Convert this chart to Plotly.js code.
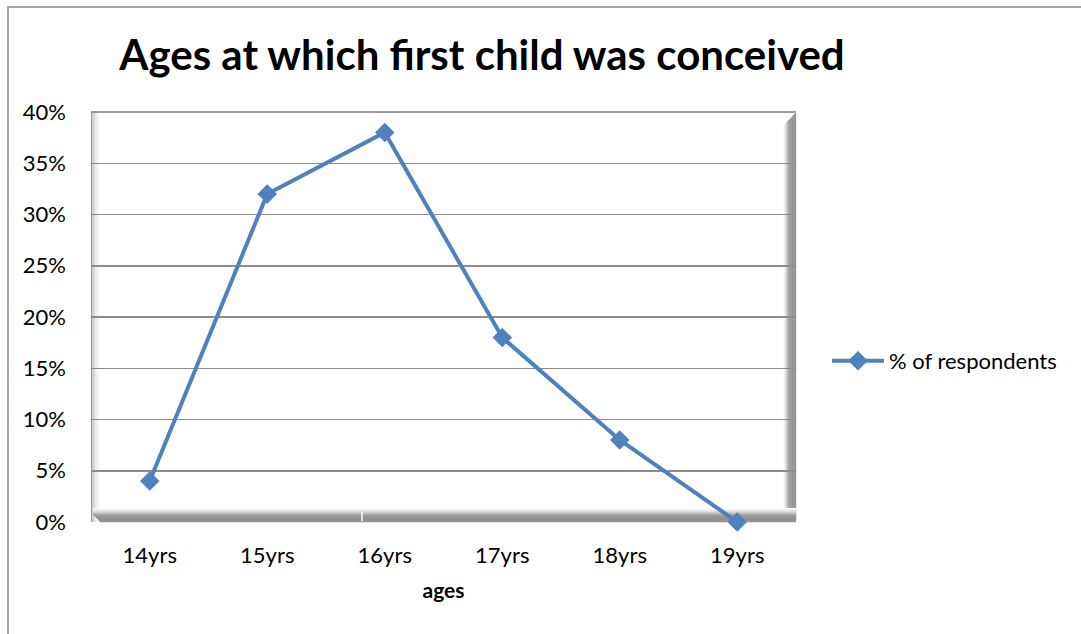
<!DOCTYPE html>
<html>
<head>
<meta charset="utf-8">
<script src="https://cdn.plot.ly/plotly-3.0.1.min.js"></script>
<style>html,body{margin:0;padding:0;background:#fff;}#chart{width:1081px;height:634px;}</style>
</head>
<body>
<div id="chart"></div>
<script>
const categories = ["14yrs", "15yrs", "16yrs", "17yrs", "18yrs", "19yrs"];
const respondents = [0.04, 0.32, 0.38, 0.18, 0.08, 0.00];
const seriesName = "% of respondents";
const chartTitle = "Ages at which first child was conceived";
const xTitle = "ages";

const W = 705, H = 410; // plot area in px
function px(v){ return v / W; }
function py(v){ return v / H; }

const shapes = [];
function rect(x0,x1,y0,y1,color){
  shapes.push({type:'rect', xref:'paper', yref:'paper', x0:x0, x1:x1, y0:y0, y1:y1,
    fillcolor:color, line:{width:0}, layer:'below'});
}
// left wall gradient
const lw = ['#9a9a9a','#c8c8c8','#d6d6d6','#e0e0e0','#e8e8e8','#eeeeee','#f3f3f3','#f7f7f7','#fbfbfb'];
lw.forEach((c,i)=>rect(px(i), px(i+1.2), py(0), 1, c));
// right wall gradient
const rw = ['#fafafa','#f0f0f0','#e2e2e2','#d0d0d0','#bdbdbd','#ababab','#a2a2a2','#9d9d9d','#9a9a9a','#989898','#989898','#979797','#979797'];
rw.forEach((c,i)=>rect(1-px(13-i), 1-px(12-i-0.2), py(0), 1-py(13-i), c));
// floor gradient
const fl = ['#fbfbfb','#f3f3f3','#e9e9e9','#dddddd','#cfcfcf','#bdbdbd','#ababab','#9d9d9d','#979797','#939393','#929292','#929292','#929292','#939393'];
fl.forEach((c,i)=>rect(px(2+Math.max(0,i-6)), 1, py(14-i-1.2), py(14-i), c));
// top edge
shapes.push({type:'line', xref:'paper', yref:'paper', x0:0, x1:1, y0:1, y1:1, line:{color:'#9a9a9a', width:2}, layer:'below'});
// small white tick on floor
shapes.push({type:'line', xref:'paper', yref:'paper', x0:px(271), x1:px(271), y0:py(1), y1:py(10), line:{color:'#ffffff', width:1.5}, layer:'above'});
// outer border
shapes.push({type:'rect', xref:'paper', yref:'paper', x0:px(-83), x1:px(1000), y0:py(-130), y1:1+py(105),
  line:{color:'#a6a6a6', width:2}, fillcolor:'rgba(0,0,0,0)', layer:'below'});

const trace = {
  x: categories, y: respondents, name: seriesName, type:'scatter', mode:'lines+markers',
  line:{color:'#4F81BD', width:4},
  marker:{symbol:'diamond', size:15, color:'#4F81BD'},
  showlegend:true, cliponaxis:false
};

const font = 'Lato, "Open Sans", "Liberation Sans", sans-serif';
const layout = {
  width:1081, height:634,
  margin:{l:91, r:285, t:112, b:112},
  paper_bgcolor:'#ffffff', plot_bgcolor:'rgba(0,0,0,0)',
  font:{family:font, size:22, color:'#000'},
  title:{text:'<b>'+chartTitle+'</b>', font:{family:font, size:42, color:'#000'}, x:482/1081, xanchor:'center', y:1-55/634, yanchor:'middle'},
  xaxis:{type:'category', range:[-0.5,5.5], showgrid:false, zeroline:false, showline:false, ticks:'', ticklabelstandoff:18,
    tickfont:{size:22}, title:{text:'<b>'+xTitle+'</b>', font:{size:21}, standoff:16}, fixedrange:true},
  yaxis:{range:[0,0.4], dtick:0.05, tickformat:'.0%', showgrid:true, gridcolor:'#8c8c8c', gridwidth:1.5, zeroline:false,
    showline:false, ticks:'', ticklabelstandoff:24, tickfont:{size:22}, fixedrange:true},
  legend:{x:px(736), xanchor:'left', y:py(161), yanchor:'middle', font:{size:22}, bgcolor:'rgba(0,0,0,0)', itemwidth:52},
  shapes:shapes
};
Plotly.newPlot('chart', [trace], layout, {displayModeBar:false, staticPlot:true});
</script>
</body>
</html>
